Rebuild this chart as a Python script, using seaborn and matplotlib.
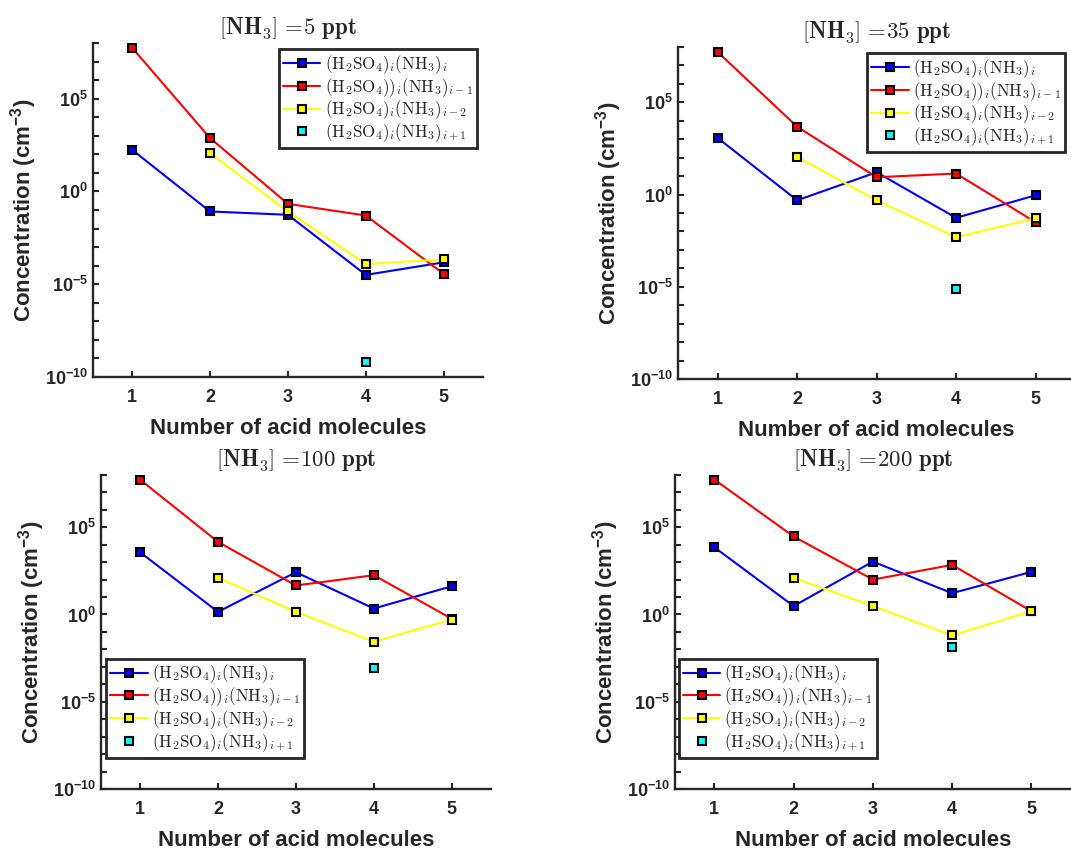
import matplotlib

matplotlib.use("Agg")
import matplotlib.pyplot as plt
import numpy as np
import pandas as pd
import seaborn as sns
from matplotlib.ticker import FixedLocator, FuncFormatter, NullLocator

# values, as log10 of concentration (cm^-3)
acid_n = [1, 2, 3, 4, 5]
nh3_ppt = [5, 35, 100, 200]
blue_log = [
    [2.25, -1.08, -1.26, -4.50, -3.82],
    [3.07, -0.31, 1.21, -1.26, -0.04],
    [3.57, 0.15, 2.42, 0.34, 1.62],
    [3.85, 0.48, 3.03, 1.22, 2.44],
]
red_log = [
    [7.75, 2.88, -0.67, -1.30, -4.45],
    [7.73, 3.68, 0.94, 1.14, -1.50],
    [7.73, 4.16, 1.66, 2.25, -0.25],
    [7.73, 4.47, 2.00, 2.84, 0.19],
]
# i-2 cluster does not exist for i = 1
yellow_x = [2, 3, 4, 5]
yellow_log = [
    [2.07, -1.08, -3.91, -3.66],
    [2.04, -0.31, -2.31, -1.28],
    [2.10, 0.15, -1.56, -0.29],
    [2.10, 0.48, -1.20, 0.19],
]
cyan_x = [4]
cyan_log = [[-9.19], [-5.11], [-3.05], [-1.87]]

labels = [
    r"$(\mathrm{H_2SO_4})_i(\mathrm{NH_3})_i$",
    r"$(\mathrm{H_2SO_4}))_i(\mathrm{NH_3})_{i-1}$",
    r"$(\mathrm{H_2SO_4})_i(\mathrm{NH_3})_{i-2}$",
    r"$(\mathrm{H_2SO_4})_i(\mathrm{NH_3})_{i+1}$",
]

DARK = "#262626"

sns.set_style(
    "ticks",
    {
        "xtick.direction": "in",
        "ytick.direction": "in",
        "axes.edgecolor": DARK,
        "xtick.color": DARK,
        "ytick.color": DARK,
        "text.color": DARK,
        "axes.labelcolor": DARK,
    },
)
plt.rcParams["font.family"] = ["Liberation Sans", "DejaVu Sans"]
# bold sans maths for ticks / ylabel, titles and legends switch to cm per text
plt.rcParams["mathtext.fontset"] = "custom"
plt.rcParams["mathtext.rm"] = "Liberation Sans:bold"
plt.rcParams["mathtext.bf"] = "Liberation Sans:bold"
plt.rcParams["mathtext.sf"] = "Liberation Sans:bold"
plt.rcParams["mathtext.it"] = "Liberation Sans:bold:italic"

fig = plt.figure(figsize=(10.71, 8.49), dpi=100)

# axes rectangles, figure fraction
rects = [
    [0.0868, 0.556, 0.364, 0.3934],
    [0.633, 0.5536, 0.371, 0.391],
    [0.0943, 0.0707, 0.364, 0.370],
    [0.630, 0.0707, 0.370, 0.370],
]
legend_spots = [
    ("upper right", (0.985, 0.982)),
    ("upper left", (0.476, 0.982)),
    ("lower left", (0.013, 0.099)),
    ("lower left", (0.010, 0.099)),
]


def tick_label(v, _pos):
    e = int(round(np.log10(v)))
    if e % 5 != 0:
        return ""
    return r"$\mathbf{10^{%d}}$" % e


for k in range(4):
    ax = fig.add_axes(rects[k])

    series = [
        (acid_n, blue_log[k], "blue", "-", labels[0]),
        (acid_n, red_log[k], "red", "-", labels[1]),
        (yellow_x, yellow_log[k], "yellow", "-", labels[2]),
        (cyan_x, cyan_log[k], "cyan", "", labels[3]),
    ]
    for xs, ys, col, ls, lab in series:
        df = pd.DataFrame({"n": xs, "conc": 10.0 ** np.array(ys)})
        sns.lineplot(
            data=df,
            x="n",
            y="conc",
            ax=ax,
            color=col,
            linestyle=ls,
            linewidth=1.5,
            marker="s",
            markersize=5.8,
            markerfacecolor=col,
            markeredgecolor="black",
            markeredgewidth=1.5,
            label=lab,
        )

    ax.set_yscale("log")
    ax.set_ylim(1e-10, 1e8)
    ax.set_xlim(0.5, 5.5)
    ax.set_xticks(acid_n)
    ax.set_xticklabels([str(v) for v in acid_n], fontweight="bold")
    ax.yaxis.set_major_locator(FixedLocator([10.0**e for e in range(-10, 9)]))
    ax.yaxis.set_major_formatter(FuncFormatter(tick_label))
    ax.yaxis.set_minor_locator(NullLocator())
    ax.tick_params(axis="both", labelsize=13, width=1.5, length=4)
    ax.tick_params(axis="x", pad=9)

    for side in ("top", "right"):
        ax.spines[side].set_visible(False)
    for side in ("left", "bottom"):
        ax.spines[side].set_linewidth(1.7)

    ax.set_xlabel("Number of acid molecules", fontsize=16, fontweight="bold", labelpad=8)
    ax.set_ylabel(r"Concentration (cm$^{-3}$)", fontsize=16, fontweight="bold")
    title = r"$\left[\mathbf{NH_3}\right]\,\mathbf{=}\!\mathbf{%d\ ppt}$" % nh3_ppt[k]
    ax.set_title(title, fontsize=16.5, pad=6, math_fontfamily="cm")

    loc, anchor = legend_spots[k]
    leg = ax.legend(
        loc=loc,
        bbox_to_anchor=anchor,
        borderaxespad=0,
        prop={"size": 12.2, "math_fontfamily": "cm"},
        fancybox=False,
        frameon=True,
        framealpha=1,
        handlelength=2.2,
        handletextpad=0.25,
        labelspacing=0.0,
        borderpad=0.25,
    )
    leg.get_frame().set_edgecolor(DARK)
    leg.get_frame().set_linewidth(2)

fig.savefig("out.png", dpi=100)
